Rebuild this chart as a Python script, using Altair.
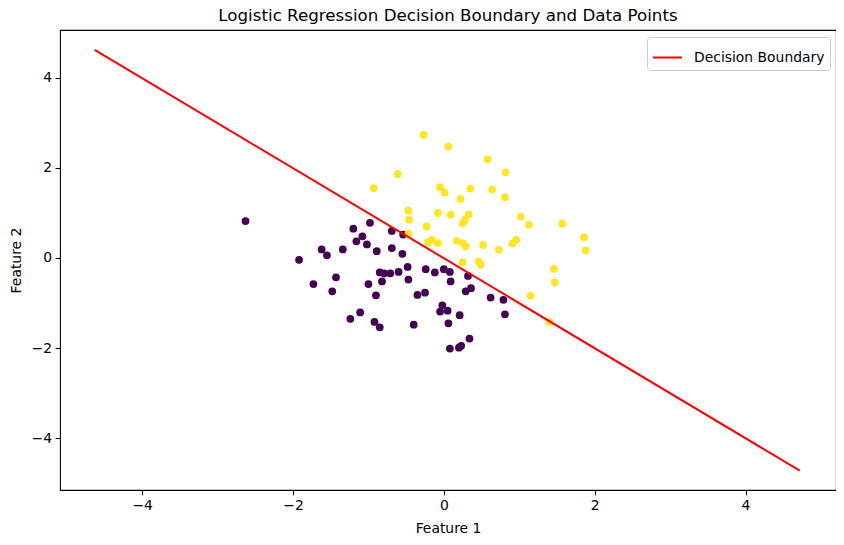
import altair as alt
import pandas as pd

# class 0 (purple) points
x0 = [-2.63, -1.20, -0.98, -0.69, -0.54, -1.08, -1.16, -1.02, -1.62, -1.55,
      -1.34, -0.89, -0.69, -0.55, -1.92, -0.48, -0.85, -0.79, -0.71, -0.60,
      -0.82, -0.47, -1.00, -1.43, -1.73, -1.48, -0.90, -0.35, -0.25, -1.11,
      -1.24, -0.92, -0.85, -0.40, -0.24, -0.12, 0.00, 0.08, 0.09, 0.32,
      0.29, 0.36, -0.02, -0.05, 0.05, 0.21, 0.06, 0.34, 0.23, 0.20,
      0.08, 0.62, 0.79, 0.81]
y0 = [0.82, 0.65, 0.78, 0.60, 0.52, 0.48, 0.37, 0.30, 0.19, 0.06,
      0.19, 0.15, 0.22, 0.09, -0.04, -0.20, -0.32, -0.34, -0.34, -0.31,
      -0.52, -0.48, -0.58, -0.43, -0.58, -0.74, -0.83, -0.82, -0.77, -1.21,
      -1.35, -1.42, -1.54, -1.48, -0.25, -0.32, -0.25, -0.31, -0.52, -0.40,
      -0.74, -0.67, -1.05, -1.19, -1.17, -1.27, -1.45, -1.79, -1.95, -1.99,
      -2.01, -0.88, -0.93, -1.25]

# class 1 (yellow) points
x1 = [-0.27, 0.06, 0.58, 0.82, -0.61, -0.93, -0.05, 0.01, 0.35, 0.64,
      0.22, 0.81, -0.47, -0.46, -0.08, 0.09, 0.33, 0.28, 0.25, -0.23,
      1.02, 1.13, 1.57, 1.86, -0.47, -0.21, -0.16, -0.08, 0.17, 0.25,
      0.29, 0.52, 0.73, 0.91, 0.96, 1.88, 0.25, 0.46, 0.49, 1.46,
      1.47, 1.15, 1.40]
y1 = [2.73, 2.47, 2.19, 1.90, 1.86, 1.55, 1.57, 1.45, 1.54, 1.52,
      1.31, 1.35, 1.05, 0.85, 1.00, 0.96, 0.97, 0.85, 0.77, 0.70,
      0.92, 0.74, 0.76, 0.46, 0.54, 0.35, 0.40, 0.33, 0.38, 0.33,
      0.26, 0.29, 0.18, 0.32, 0.40, 0.17, -0.09, -0.08, -0.15, -0.24,
      -0.54, -0.84, -1.42]

# decision boundary endpoints
line_x = [-4.63, 4.72]
line_y = [4.62, -4.72]

x_ticks = [-4, -2, 0, 2, 4]
y_ticks = [-4, -2, 0, 2, 4]

FONT = "DejaVu Sans"

pts = pd.DataFrame({
    "x": x0 + x1,
    "y": y0 + y1,
    "cls": ["0"] * len(x0) + ["1"] * len(x1),
})
line_df = pd.DataFrame({"x": line_x, "y": line_y, "series": ["Decision Boundary"] * 2})

xscale = alt.Scale(domain=[-5.09, 5.20], nice=False, zero=False)
yscale = alt.Scale(domain=[-5.15, 5.06], nice=False, zero=False)

xaxis = alt.Axis(title="Feature 1", values=x_ticks, format="d", grid=False, titlePadding=9)
yaxis = alt.Axis(title="Feature 2", values=y_ticks, format="d", grid=False, titlePadding=8)

points = alt.Chart(pts).mark_circle(size=60, opacity=1).encode(
    x=alt.X("x:Q", scale=xscale, axis=xaxis),
    y=alt.Y("y:Q", scale=yscale, axis=yaxis),
    color=alt.Color("cls:N", scale=alt.Scale(domain=["0", "1"], range=["#440154", "#fde725"]), legend=None),
)

line = alt.Chart(line_df).mark_line(strokeWidth=2).encode(
    x=alt.X("x:Q", scale=xscale),
    y=alt.Y("y:Q", scale=yscale),
    color=alt.Color(
        "series:N",
        scale=alt.Scale(domain=["Decision Boundary"], range=["red"]),
        legend=alt.Legend(
            title=None,
            orient="none",
            legendX=587,
            legendY=7,
            symbolType="stroke",
            symbolSize=841,
            symbolStrokeWidth=2,
            labelFontSize=13.9,
            labelFont=FONT,
            labelColor="black",
            labelOffset=11,
            padding=5,
            fillColor="white",
            strokeColor="#cccccc",
            cornerRadius=3,
        ),
    ),
)

chart = alt.layer(points, line).resolve_scale(color="independent").properties(
    width=776,
    height=460,
    title=alt.TitleParams(
        text="Logistic Regression Decision Boundary and Data Points",
        fontSize=16.7,
        fontWeight="normal",
        font=FONT,
        color="black",
        anchor="middle",
        offset=5,
    ),
    autosize=alt.AutoSizeParams(type="none"),
    padding={"left": 52, "top": 22, "right": 0, "bottom": 47},
).configure_view(
    stroke="black", strokeWidth=1.1
).configure_axis(
    domain=False,
    tickColor="black",
    tickSize=4.9,
    tickWidth=1.1,
    labelColor="black",
    labelFontSize=13.9,
    labelFont=FONT,
    labelPadding=3.5,
    titleFont=FONT,
    titleFontSize=13.9,
    titleFontWeight="normal",
    titleColor="black",
)

chart.save("out.html", embed_options={"renderer": "svg", "actions": False})
